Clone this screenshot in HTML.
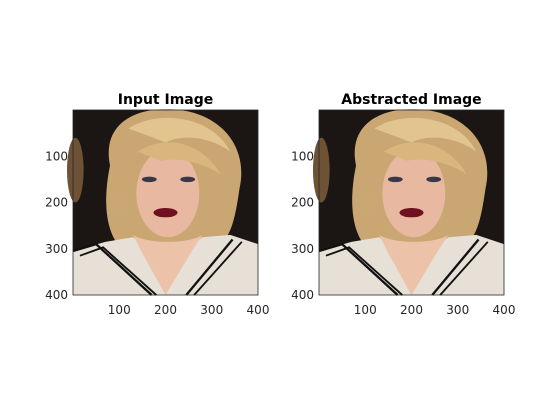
<!DOCTYPE html>
<html><head><meta charset="utf-8"><style>
body{margin:0;background:#fff;}
svg{display:block;font-family:"DejaVu Sans","Liberation Sans",sans-serif;}
</style></head><body>
<svg width="560" height="420">
<defs>
<g id="portrait">
  <rect x="0" y="0" width="400" height="400" fill="#1b1514"/>
  <ellipse cx="5" cy="130" rx="18" ry="70" fill="#6e5236"/>
  <path d="M80,120 C60,20 150,-10 230,0 C320,10 380,80 360,170 C350,240 340,280 310,295 L100,295 C80,270 60,220 80,120 Z" fill="#c9a672"/>
  <path d="M120,40 C180,0 300,10 340,90 C300,60 240,50 200,70 Z" fill="#e2c48e"/>
  <ellipse cx="205" cy="180" rx="68" ry="95" fill="#e8b9a0"/>
  <path d="M140,90 C200,50 280,70 320,140 C290,120 240,100 190,110 Z" fill="#d8b67e"/>
  <ellipse cx="165" cy="150" rx="16" ry="6" fill="#3a3848"/>
  <ellipse cx="248" cy="150" rx="16" ry="6" fill="#3a3848"/>
  <ellipse cx="200" cy="222" rx="26" ry="10" fill="#6e1020"/>
  <ellipse cx="105" cy="205" rx="14" ry="22" fill="none" stroke="#c8a878" stroke-width="4"/>
  <path d="M0,305 L70,285 L130,275 L200,330 L280,275 L340,270 L400,290 L400,400 L0,400 Z" fill="#e6e0d6"/>
  <path d="M130,270 C160,290 250,290 280,270 L260,300 L200,400 L150,310 Z" fill="#ecc2a8"/>
  <path d="M0,305 L50,290 L170,400" fill="none" stroke="#111" stroke-width="5"/>
  <path d="M15,315 L65,297 L180,400" fill="none" stroke="#111" stroke-width="4"/>
  <path d="M345,280 L245,400" fill="none" stroke="#111" stroke-width="5"/>
  <path d="M365,285 L262,400" fill="none" stroke="#111" stroke-width="4"/>
</g>
</defs>

<text x="165.5" y="104" text-anchor="middle" font-size="14" font-weight="bold" fill="#000">Input Image</text>
<g transform="translate(73,110) scale(0.4625)">
  <use href="#portrait"/>
</g>
<rect x="73" y="110" width="185" height="185" fill="none" stroke="#262626" stroke-width="0.8"/>

<text x="411.5" y="104" text-anchor="middle" font-size="14" font-weight="bold" fill="#000">Abstracted Image</text>
<g transform="translate(319,110) scale(0.4625)">
  <use href="#portrait"/>
</g>
<rect x="319" y="110" width="185" height="185" fill="none" stroke="#262626" stroke-width="0.8"/>

<g id="ticks" font-size="12" fill="#262626"></g>
<script>
const tickValues = [100, 200, 300, 400];
const panels = [73, 319];
const g = document.getElementById('ticks');
const ns = 'http://www.w3.org/2000/svg';
const sx = v => v * 185 / 400;
panels.forEach(function(x0){
  tickValues.forEach(function(v){
    const tx = document.createElementNS(ns, 'text');
    tx.setAttribute('x', x0 + sx(v));
    tx.setAttribute('y', 314);
    tx.setAttribute('text-anchor', 'middle');
    tx.textContent = v;
    
    
    g.appendChild(tx);
    const ty = document.createElementNS(ns, 'text');
    ty.setAttribute('x', x0 - 5);
    ty.setAttribute('y', 110 + sx(v) + 4);
    ty.setAttribute('text-anchor', 'end');
    ty.textContent = v;
    
    
    g.appendChild(ty);
  });
});
</script>
</svg>
</body></html>
